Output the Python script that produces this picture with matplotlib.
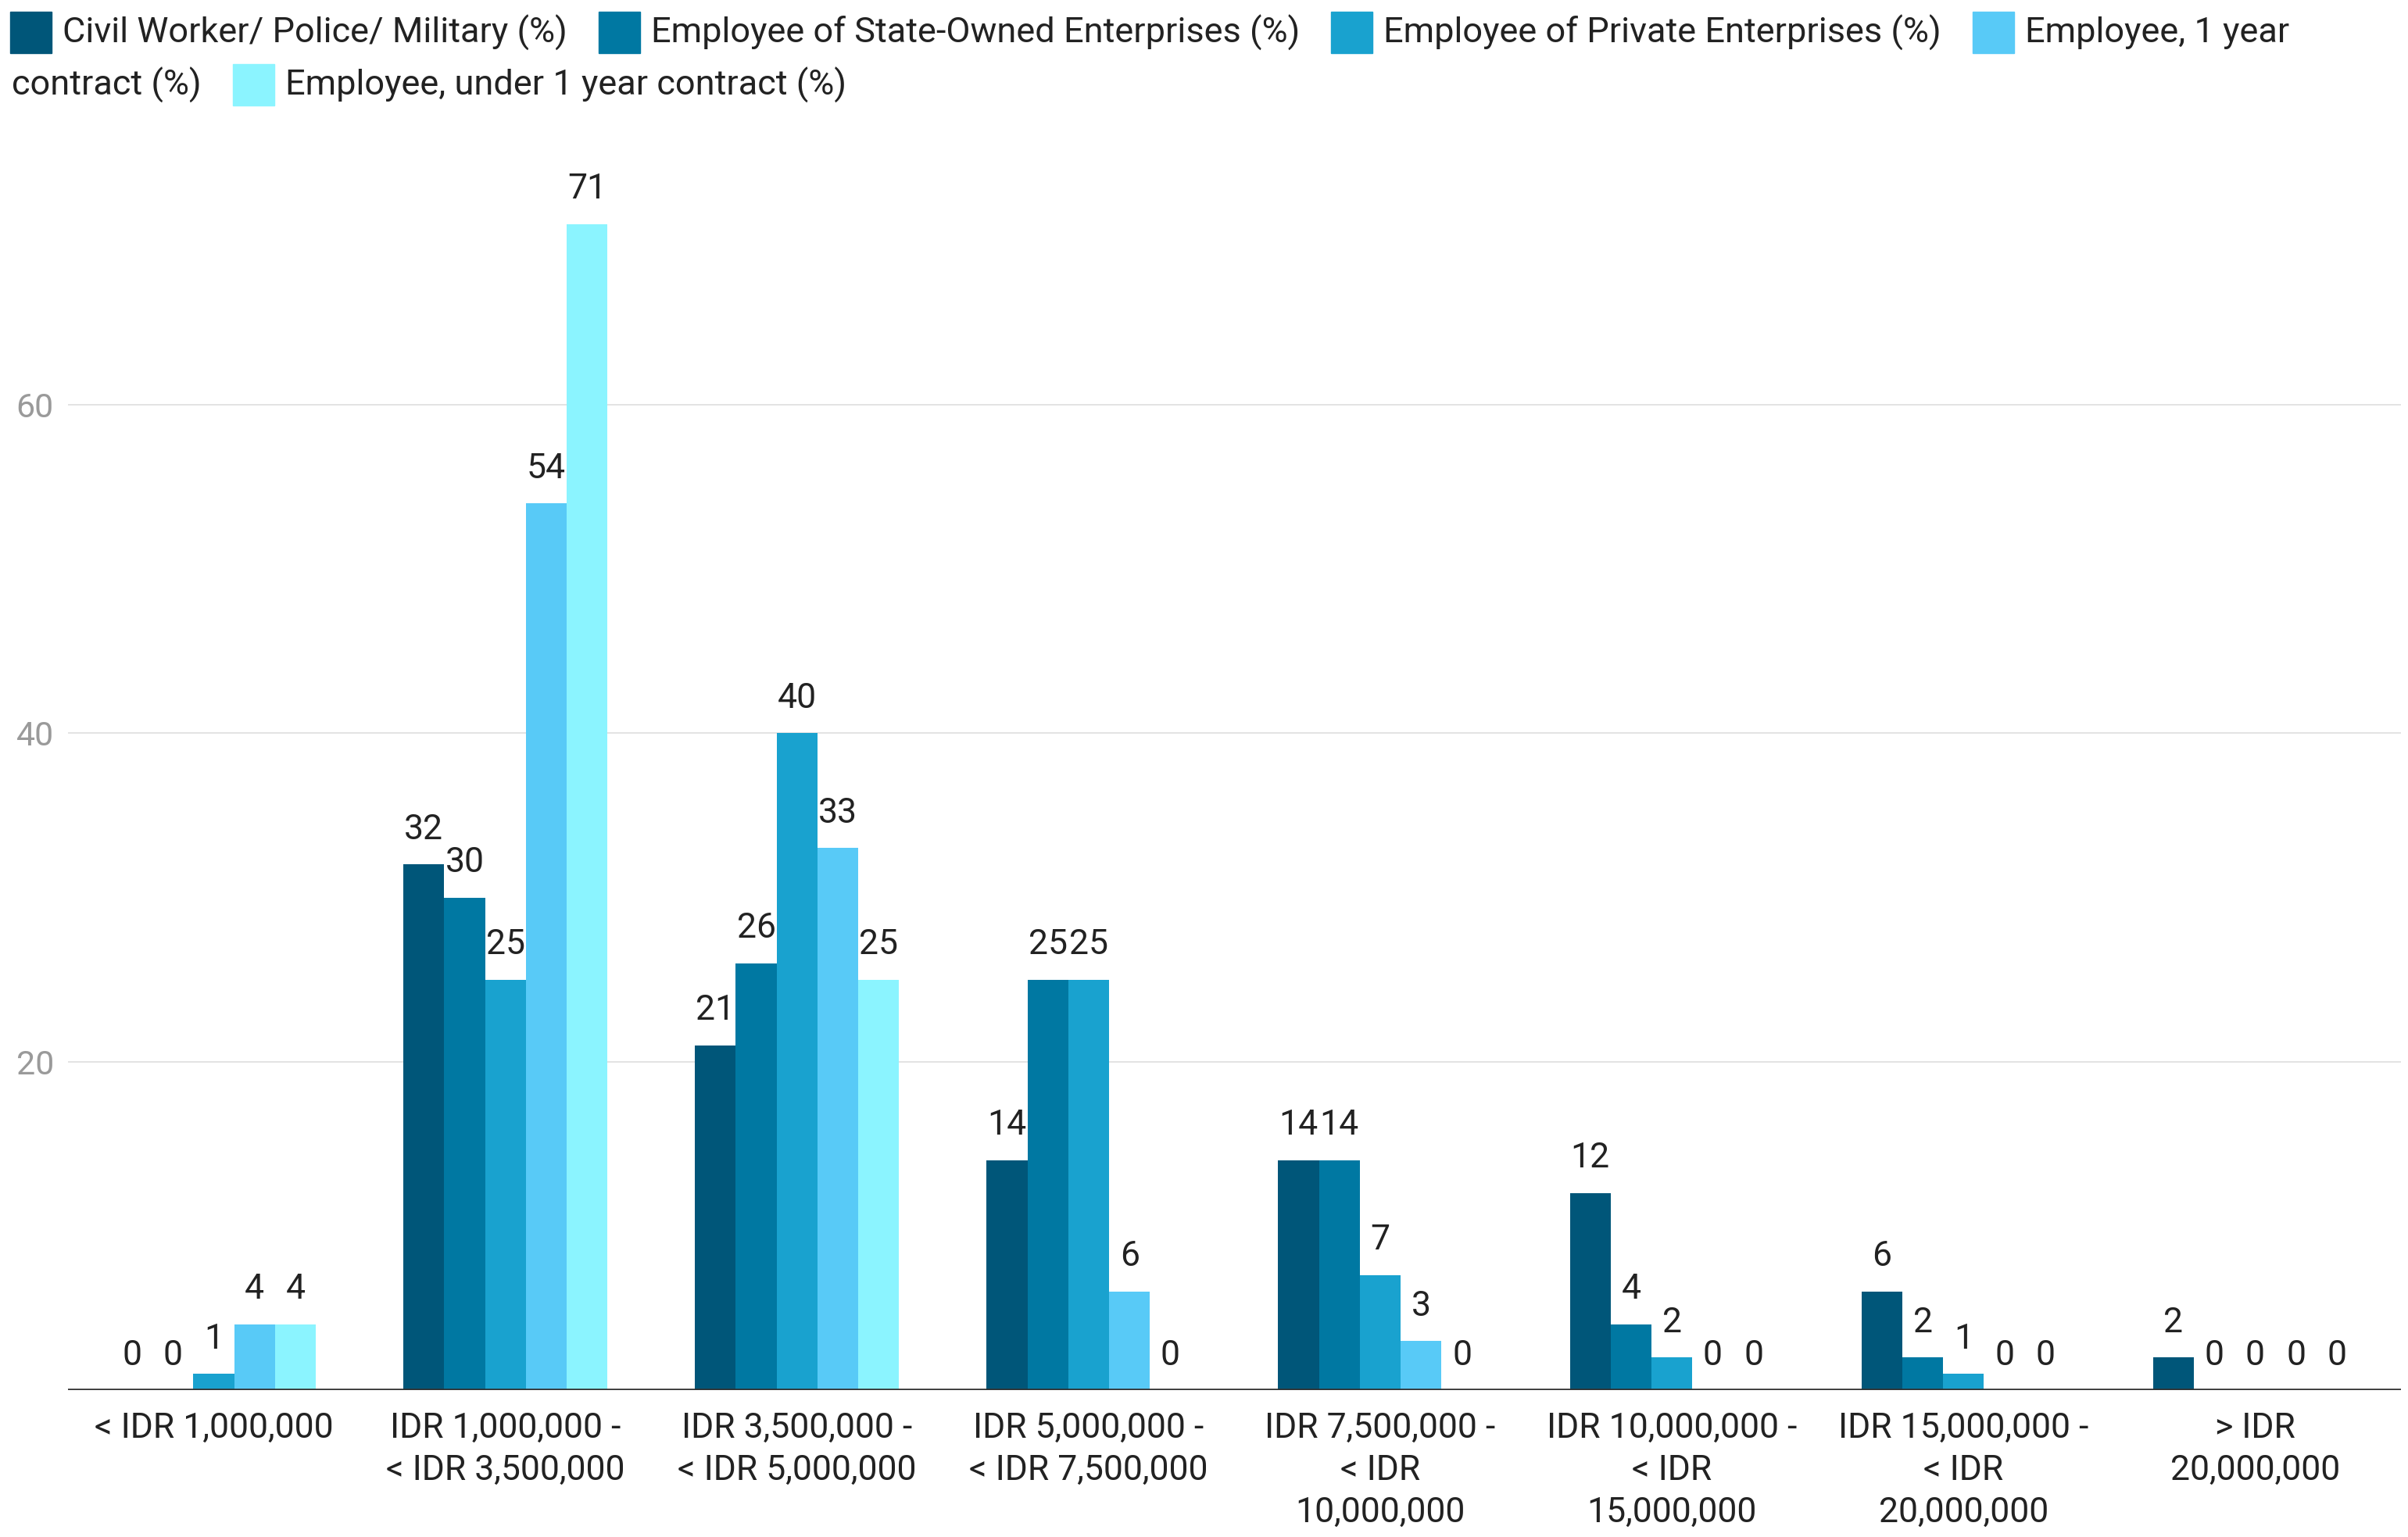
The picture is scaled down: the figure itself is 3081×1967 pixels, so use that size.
import numpy as np
import matplotlib
matplotlib.use("Agg")
import matplotlib.pyplot as plt
from matplotlib.patches import Rectangle

plt.rcParams['font.family'] = ['Roboto', 'DejaVu Sans']

categories = ["< IDR 1,000,000", "IDR 1,000,000 -\n< IDR 3,500,000", "IDR 3,500,000 -\n< IDR 5,000,000",
              "IDR 5,000,000 -\n< IDR 7,500,000", "IDR 7,500,000 -\n< IDR\n10,000,000",
              "IDR 10,000,000 -\n< IDR\n15,000,000", "IDR 15,000,000 -\n< IDR\n20,000,000", "> IDR\n20,000,000"]
series_names = ["Civil Worker/ Police/ Military (%)", "Employee of State-Owned Enterprises (%)",
                "Employee of Private Enterprises (%)", "Employee, 1 year contract (%)",
                "Employee, under 1 year contract (%)"]
civil = [0, 32, 21, 14, 14, 12, 6, 2]
state_owned = [0, 30, 26, 25, 14, 4, 2, 0]
private = [1, 25, 40, 25, 7, 2, 1, 0]
one_year = [4, 54, 33, 6, 3, 0, 0, 0]
under_one_year = [4, 71, 25, 0, 0, 0, 0, 0]
colors = ["#005679", "#0078a2", "#19a2cf", "#58caf7", "#8bf4ff"]

W, H = 3081, 1967
fig = plt.figure(figsize=(W / 100, H / 100), dpi=100)
ax = fig.add_axes([87 / W, 188 / H, (3072 - 87) / W, 0.812])

x = np.arange(len(categories))
bw = 0.14
all_series = [civil, state_owned, private, one_year, under_one_year]
for i, (vals, c) in enumerate(zip(all_series, colors)):
    pos = x + (i - 2) * bw
    ax.bar(pos, vals, width=bw, color=c, linewidth=0, zorder=2)
    for px, v in zip(pos, vals):
        ax.annotate(str(v), (px, v), xytext=(0, 32), textcoords="offset points",
                    ha="center", va="center", fontsize=32, color="#222222")

ax.set_xlim(-0.5, len(categories) - 0.5)
ax.set_ylim(0, 76)
ax.set_yticks([20, 40, 60])
ax.grid(axis="y", color="#e0e0e0", linewidth=1.3, zorder=0)
ax.axhline(0, color="#333333", linewidth=2.6, zorder=3)
for s in ax.spines.values():
    s.set_visible(False)
ax.tick_params(axis="y", length=0, pad=13, labelsize=31, labelcolor="#9a9a9a")
ax.set_xticks(x)
ax.set_xticklabels(categories, fontsize=32, color="#222222", linespacing=1.36)
ax.tick_params(axis="x", length=0, pad=20)

# legend drawn by hand, wrapped like the original
renderer = fig.canvas.get_renderer()
def px2fig(px, py):
    return px / W, 1 - py / H

sw = 53
row_y = [42, 109]
xcur = 13
row = 0
for i, (name, c) in enumerate(zip(series_names, colors)):
    yc = row_y[row]
    fig.patches.append(Rectangle(px2fig(xcur, yc + sw / 2), sw / W, sw / H,
                                 transform=fig.transFigure, color=c))
    xcur += sw + 14
    if i == 3:
        parts = ["Employee, 1 year", "contract (%)"]
        t = fig.text(*px2fig(xcur, yc), parts[0], fontsize=32.5, color="#222222", va="center")
        row = 1
        yc = row_y[row]
        xcur = 15
        t = fig.text(*px2fig(xcur, yc), parts[1], fontsize=32.5, color="#222222", va="center")
    else:
        t = fig.text(*px2fig(xcur, yc), name, fontsize=32.5, color="#222222", va="center")
    w = t.get_window_extent(renderer).width
    xcur += w + 40

fig.savefig("out.png", dpi=100, facecolor="white")
